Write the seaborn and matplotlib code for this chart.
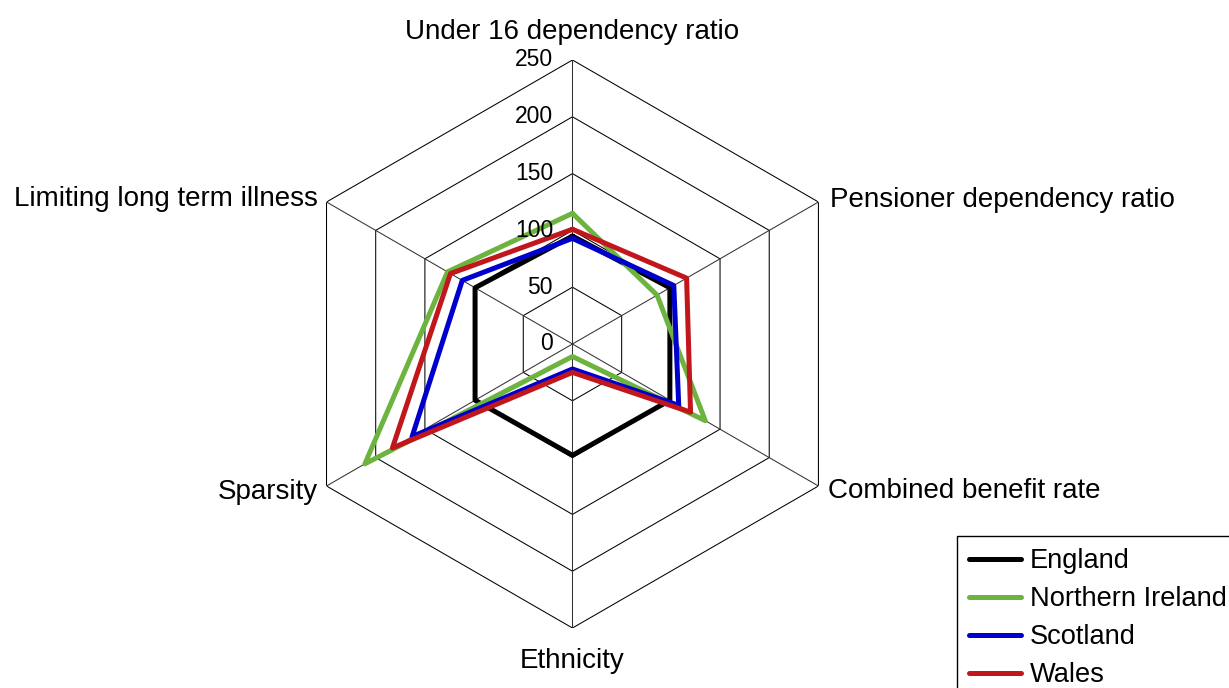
import numpy as np
import pandas as pd
import seaborn as sns
import matplotlib.pyplot as plt
from matplotlib.lines import Line2D

sns.set_style("white")
plt.rcParams['font.family'] = ['Liberation Sans', 'DejaVu Sans']
plt.rcParams['text.color'] = 'black'

# dados (índice, 100 = média)
categorias = ["Under 16 dependency ratio", "Pensioner dependency ratio",
              "Combined benefit rate", "Ethnicity", "Sparsity",
              "Limiting long term illness"]
england = [95, 99, 99, 98, 99, 99]
northern_ireland = [115, 86, 135, 11, 211, 127]
scotland = [93, 103, 108, 22, 163, 112]
wales = [101, 116, 120, 25, 183, 124]
paises = ["England", "Northern Ireland", "Scotland", "Wales"]
niveis = [0, 50, 100, 150, 200, 250]
cores = ["#000000", "#6db33f", "#0000cc", "#c0161c"]

n = len(categorias)
angulos = np.arange(n) * 2 * np.pi / n

# tabela longa, fechando cada polígono
linhas = []
for pais, vals in zip(paises, [england, northern_ireland, scotland, wales]):
    for i in range(n + 1):
        linhas.append({"pais": pais, "theta": i * 2 * np.pi / n, "valor": vals[i % n]})
df = pd.DataFrame(linhas)

fig = plt.figure(figsize=(12.29, 6.88), dpi=100)
ax = fig.add_axes([0.2347, 0.0872, 0.4622, 0.8256], projection='polar')
ax.set_theta_offset(np.pi / 2)
ax.set_theta_direction(-1)
ax.set_ylim(0, 250)
ax.grid(False)
ax.spines['polar'].set_visible(False)
ax.set_xticks([])
ax.set_yticks([])

# grade hexagonal
for nv in niveis[1:]:
    ax.plot(np.append(angulos, 0), [nv] * (n + 1), color="black", lw=0.75, zorder=1)
for a in angulos:
    ax.plot([a, a], [0, 250], color="#333333", lw=0.75, zorder=1)

sns.lineplot(data=df, x="theta", y="valor", hue="pais", palette=cores,
             sort=False, estimator=None, lw=3.6, ax=ax, zorder=3)
ax.set_xlabel("")
ax.set_ylabel("")
ax.legend_.remove()

for nv in niveis:
    ax.annotate(str(nv), xy=(0, nv), xytext=(-14, 0), textcoords='offset points',
                ha='right', va='center', fontsize=16.5, color='black')

# rótulos das categorias
offsets = [((0, 20.5), 'center', 'center'), ((8.5, 1.5), 'left', 'center'),
           ((7, -3.6), 'left', 'center'), ((0, -24), 'center', 'center'),
           ((-6, -4), 'right', 'center'), ((-6, 2.3), 'right', 'center')]
for a, cat, (off, ha, va) in zip(angulos, categorias, offsets):
    ax.annotate(cat, xy=(a, 250), xytext=off, textcoords='offset points',
                ha=ha, va=va, fontsize=20, color='black', annotation_clip=False)

handles = [Line2D([], [], color=c, lw=3.6) for c in cores]
leg = fig.legend(handles, paises, loc='upper left', bbox_to_anchor=(957 / 1229, 1 - 536 / 688),
                 fontsize=19.6, frameon=True, fancybox=False, edgecolor='black', framealpha=1,
                 labelspacing=0.44, handlelength=1.9, handletextpad=0.32, borderpad=0.45,
                 borderaxespad=0)
leg.get_frame().set_linewidth(1.0)
for t in leg.get_texts():
    t.set_color('black')

fig.savefig("out.png", dpi=100)
